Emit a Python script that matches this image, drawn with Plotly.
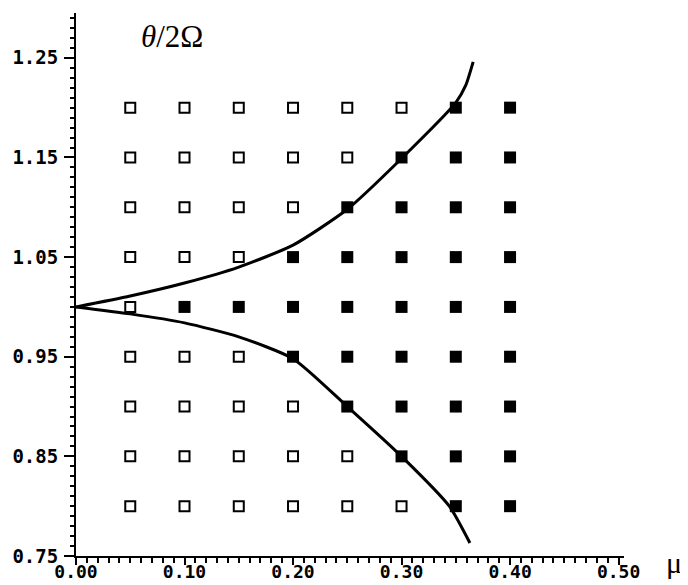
import plotly.graph_objects as go

# Grid of simulated points
mu_open = [0.05, 0.10, 0.15, 0.20, 0.25, 0.30,
           0.05, 0.10, 0.15, 0.20, 0.25,
           0.05, 0.10, 0.15, 0.20,
           0.05, 0.10, 0.15,
           0.05,
           0.05, 0.10, 0.15,
           0.05, 0.10, 0.15, 0.20,
           0.05, 0.10, 0.15, 0.20, 0.25,
           0.05, 0.10, 0.15, 0.20, 0.25, 0.30]
ratio_open = [1.20] * 6 + [1.15] * 5 + [1.10] * 4 + [1.05] * 3 + [1.00] * 1 + \
             [0.95] * 3 + [0.90] * 4 + [0.85] * 5 + [0.80] * 6

mu_filled = [0.35, 0.40,
             0.30, 0.35, 0.40,
             0.25, 0.30, 0.35, 0.40,
             0.20, 0.25, 0.30, 0.35, 0.40,
             0.10, 0.15, 0.20, 0.25, 0.30, 0.35, 0.40,
             0.20, 0.25, 0.30, 0.35, 0.40,
             0.25, 0.30, 0.35, 0.40,
             0.30, 0.35, 0.40,
             0.35, 0.40]
ratio_filled = [1.20] * 2 + [1.15] * 3 + [1.10] * 4 + [1.05] * 5 + [1.00] * 7 + \
               [0.95] * 5 + [0.90] * 4 + [0.85] * 3 + [0.80] * 2

# Boundary curves
mu_upper = [0.0, 0.05, 0.10, 0.15, 0.20, 0.25, 0.30, 0.35, 0.359, 0.366]
ratio_upper = [1.0, 1.011, 1.024, 1.040, 1.062, 1.098, 1.149, 1.205, 1.222, 1.246]
mu_lower = [0.0, 0.05, 0.10, 0.15, 0.20, 0.25, 0.30, 0.344, 0.363]
ratio_lower = [1.0, 0.993, 0.984, 0.970, 0.948, 0.90, 0.85, 0.80, 0.763]

x_ticks = [0.0, 0.1, 0.2, 0.3, 0.4, 0.5]
x_labels = ["0.00", "0.10", "0.20", "0.30", "0.40", "0.50"]
y_ticks = [0.75, 0.85, 0.95, 1.05, 1.15, 1.25]
y_labels = ["0.75", "0.85", "0.95", "1.05", "1.15", "1.25"]

fig = go.Figure()
fig.add_trace(go.Scatter(x=mu_upper, y=ratio_upper, mode="lines",
                         line=dict(color="black", width=3, shape="spline", smoothing=0.6),
                         showlegend=False))
fig.add_trace(go.Scatter(x=mu_lower, y=ratio_lower, mode="lines",
                         line=dict(color="black", width=3, shape="spline", smoothing=0.6),
                         showlegend=False))
fig.add_trace(go.Scatter(x=mu_open, y=ratio_open, mode="markers",
                         marker=dict(symbol="square-open", size=10, color="black",
                                     line=dict(width=2, color="black")),
                         showlegend=False))
fig.add_trace(go.Scatter(x=mu_filled, y=ratio_filled, mode="markers",
                         marker=dict(symbol="square", size=12, color="black"),
                         showlegend=False))

tickfont = dict(family="DejaVu Sans Mono", size=18, color="black", weight="bold")
fig.update_layout(
    width=680, height=577,
    margin=dict(l=68, r=64, t=5, b=29),
    paper_bgcolor="white", plot_bgcolor="white",
    xaxis=dict(range=[0, 0.505], tickvals=x_ticks, ticktext=x_labels, automargin=False,
               showgrid=False, zeroline=False, showline=True, linecolor="black",
               linewidth=2, ticks="outside", ticklen=7, tickwidth=2, tickcolor="black",
               tickfont=tickfont, ticklabelstandoff=-9,
               minor=dict(dtick=0.01, tick0=0, ticks="outside", ticklen=5,
                          tickwidth=1.5, tickcolor="black", showgrid=False)),
    yaxis=dict(range=[0.75, 1.295], tickvals=y_ticks, ticktext=y_labels, automargin=False,
               showgrid=False, zeroline=False, showline=True, linecolor="black",
               linewidth=2, ticks="outside", ticklen=10, tickwidth=2, tickcolor="black",
               tickfont=dict(family="DejaVu Sans Mono", size=19, color="black", weight="bold"),
               ticklabelstandoff=2,
               minor=dict(dtick=0.01, tick0=0.75, ticks="outside", ticklen=4,
                          tickwidth=1.5, tickcolor="black", showgrid=False)),
    annotations=[
        dict(text="<i>θ</i>/2Ω", xref="paper", yref="paper", x=0.175, y=1.0,
             xanchor="center", yanchor="top", yshift=-4, showarrow=False,
             font=dict(family="Liberation Serif", size=31, color="black")),
        dict(text="μ", xref="paper", yref="paper", x=1.0, y=0.0,
             xanchor="center", yanchor="middle", xshift=50, yshift=-6, showarrow=False,
             font=dict(family="Liberation Serif", size=30, color="black")),
    ],
)

fig.write_html("out.html")
